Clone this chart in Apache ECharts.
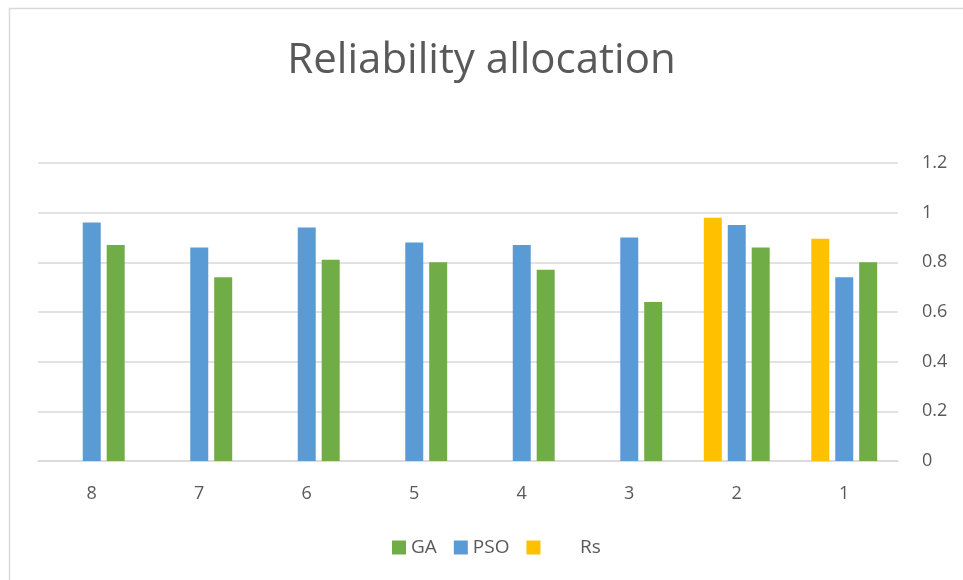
<!DOCTYPE html>
<html>
<head>
<meta charset="utf-8">
<script src="https://cdn.jsdelivr.net/npm/echarts@6/dist/echarts.min.js"></script>
<style>
html,body{margin:0;padding:0;background:#fff;}
#main{width:963px;height:580px;}
</style>
</head>
<body>
<div id="main"></div>
<script>
var categories = ['8', '7', '6', '5', '4', '3', '2', '1'];
var rsValues  = [null, null, null, null, null, null, 0.98, 0.895];
var psoValues = [0.96, 0.86, 0.94, 0.88, 0.87, 0.90, 0.95, 0.74];
var gaValues  = [0.87, 0.74, 0.81, 0.80, 0.77, 0.64, 0.86, 0.80];
var yTicks = [0, 0.2, 0.4, 0.6, 0.8, 1, 1.2];

var chart = echarts.init(document.getElementById('main'));
var font = '"Open Sans", "Noto Sans", sans-serif';
chart.setOption({
  animation: false,
  backgroundColor: '#ffffff',
  graphic: [{
    type: 'rect',
    shape: { x: 9.5, y: 8.5, width: 1000, height: 1000 },
    style: { fill: 'none', stroke: '#d9d9d9', lineWidth: 1.5 }
  }],
  title: {
    text: 'Reliability allocation',
    left: 'center',
    top: 35,
    textStyle: { fontFamily: font, fontSize: 42, fontWeight: 'normal', color: '#595959' }
  },
  legend: {
    data: ['GA', 'PSO', 'Rs'],
    bottom: 18,
    left: 387,
    itemWidth: 14,
    itemHeight: 14,
    itemGap: 17,
    icon: 'rect',
    formatter: function (n) { return n === 'Rs' ? '       Rs' : n; },
    textStyle: { fontFamily: font, fontSize: 19, color: '#595959' }
  },
  grid: { left: 38, right: 65, top: 163, bottom: 119, containLabel: false },
  xAxis: {
    type: 'category',
    data: categories,
    axisLine: { lineStyle: { color: '#d9d9d9', width: 1.5 } },
    axisTick: { show: false },
    axisLabel: { fontFamily: font, fontSize: 18, color: '#595959', margin: 24 }
  },
  yAxis: {
    type: 'value',
    position: 'right',
    min: yTicks[0],
    max: yTicks[yTicks.length - 1],
    interval: 0.2,
    axisLine: { show: false },
    axisTick: { show: false },
    splitLine: { lineStyle: { color: '#d9d9d9', width: 1.5 } },
    axisLabel: {
      fontFamily: font, fontSize: 18, color: '#595959', margin: 24,
      formatter: function (v) { return String(Math.round(v * 10) / 10); }
    }
  },
  series: [
    { name: 'Rs', type: 'bar', data: rsValues, barWidth: 18, barGap: '33%', itemStyle: { color: '#FFC000' } },
    { name: 'PSO', type: 'bar', data: psoValues, barWidth: 18, barGap: '33%', itemStyle: { color: '#5B9BD5' } },
    { name: 'GA', type: 'bar', data: gaValues, barWidth: 18, barGap: '33%', itemStyle: { color: '#70AD47' } }
  ]
});
</script>
</body>
</html>
